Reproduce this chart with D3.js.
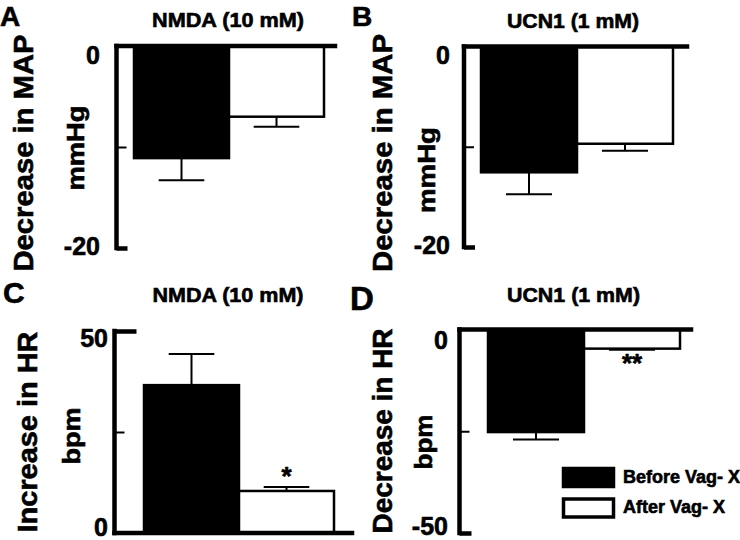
<!DOCTYPE html>
<html>
<head>
<meta charset="utf-8">
<script src="https://cdn.jsdelivr.net/npm/d3@7"></script>
<style>
  html, body { margin: 0; padding: 0; background: #fff; }
  svg { display: block; }
  text { font-family: "Liberation Sans", Arial, Helvetica, sans-serif; font-weight: bold; fill: #000; stroke: #000; stroke-width: 0.6px; }
</style>
</head>
<body>
<svg id="chart" width="740" height="540"></svg>
<script>
// ---------------- data ----------------
const categories = ["Before Vag- X", "After Vag- X"];
const panelLetters = ["A", "B", "C", "D"];
const panelTitles = ["NMDA (10 mM)", "UCN1 (1 mM)", "NMDA (10 mM)", "UCN1 (1 mM)"];
const yLabels = ["Decrease in MAP", "Decrease in MAP", "Increase in HR", "Decrease in HR"];
const unitLabels = ["mmHg", "mmHg", "bpm", "bpm"];

const meanA = [-11.1, -7.0];
const semA  = [2.2, 1.0];
const meanB = [-12.55, -9.7];
const semB  = [2.2, 0.7];
const meanC = [36.6, 10.4];
const semC  = [7.7, 1.0];
const meanD = [-25.2, -4.7];
const semD  = [1.8, 0.3];

const domainA = [-20, 0];
const domainB = [-20, 0];
const domainC = [0, 50];
const domainD = [-50, 0];

const ticksA = [0, -10, -20];
const ticksB = [0, -10, -20];
const ticksC = [50, 25, 0];
const ticksD = [0, -25, -50];
const tickLabelsA = ["0", "", "-20"];
const tickLabelsB = ["0", "", "-20"];
const tickLabelsC = ["50", "", "0"];
const tickLabelsD = ["0", "", "-50"];

const sigA = ["", ""];
const sigB = ["", ""];
const sigC = ["", "*"];
const sigD = ["", "**"];

// ---------------- layout (positions / styles) ----------------
const panels = [
  { means: meanA, sems: semA, domain: domainA, ticks: ticksA, tickLabels: tickLabelsA, sig: sigA,
    spineX: 116.5, yTop: 46, yBottom: 248, barL: 134, barR: 324, lineEnd: 335,
    labelRight: 100, labelDy: [17.5, 6.5], endTick: 11,
    letter: { x: 0, y: 26, size: 28 },
    title: { x: 228, y: 26.5, len: 152 },
    ylab: { x: 33, y: 153, len: 237 },
    unit: { x: 84, y: 148, len: 85 } },
  { means: meanB, sems: semB, domain: domainB, ticks: ticksB, tickLabels: tickLabelsB, sig: sigB,
    spineX: 464, yTop: 46.5, yBottom: 247, barL: 481, barR: 673, lineEnd: 687,
    labelRight: 450, labelDy: [17, 6.5], endTick: 11,
    letter: { x: 352, y: 26, size: 28 },
    title: { x: 573, y: 28, len: 132 },
    ylab: { x: 392, y: 153, len: 238 },
    unit: { x: 435, y: 170, len: 86 } },
  { means: meanC, sems: semC, domain: domainC, ticks: ticksC, tickLabels: tickLabelsC, sig: sigC,
    spineX: 114.5, yTop: 331, yBottom: 533, barL: 144, barR: 334, lineEnd: 352,
    labelRight: 108, labelDy: [15.5, 2.5], endTick: 22,
    letter: { x: 3, y: 303, size: 30 },
    title: { x: 228, y: 302, len: 151 },
    ylab: { x: 37, y: 432, len: 201 },
    unit: { x: 80, y: 436, len: 57 } },
  { means: meanD, sems: semD, domain: domainD, ticks: ticksD, tickLabels: tickLabelsD, sig: sigD,
    spineX: 459.5, yTop: 329.5, yBottom: 533, barL: 488, barR: 680, lineEnd: 691,
    labelRight: 448, labelDy: [18.5, 1.5], endTick: 12,
    letter: { x: 350, y: 310, size: 33 },
    title: { x: 573.5, y: 302, len: 133 },
    ylab: { x: 392, y: 431, len: 205 },
    unit: { x: 432, y: 442, len: 55 } }
];

const barFill = ["#000", "#fff"];
const thick = 4.5;
const thin = 2;

const svg = d3.select("#chart");

panels.forEach((p, pi) => {
  const g = svg.append("g");
  const y = d3.scaleLinear().domain(p.domain).range([p.yBottom, p.yTop]);
  const x = d3.scaleBand().domain(categories).range([p.barL, p.barR]).padding(0);
  const bw = x.bandwidth();
  const rows = categories.map((c, i) => ({ cat: c, mean: p.means[i], sem: p.sems[i], sig: p.sig[i], i }));

  // error bars (outward only)
  const errEnd = d => d.mean >= 0 ? d.mean + d.sem : d.mean - d.sem;
  g.selectAll("line.stem").data(rows).join("line")
    .attr("x1", d => x(d.cat) + bw / 2).attr("x2", d => x(d.cat) + bw / 2)
    .attr("y1", d => y(d.mean)).attr("y2", d => y(errEnd(d)))
    .attr("stroke", "#000").attr("stroke-width", thin);
  g.selectAll("line.cap").data(rows).join("line")
    .attr("x1", d => x(d.cat) + bw / 2 - bw * 0.24).attr("x2", d => x(d.cat) + bw / 2 + bw * 0.24)
    .attr("y1", d => y(errEnd(d))).attr("y2", d => y(errEnd(d)))
    .attr("stroke", "#000").attr("stroke-width", thin);

  // bars
  g.selectAll("rect.bar").data(rows).join("rect")
    .attr("x", d => x(d.cat))
    .attr("width", bw)
    .attr("y", d => Math.min(y(0), y(d.mean)))
    .attr("height", d => Math.abs(y(d.mean) - y(0)))
    .attr("fill", d => barFill[d.i])
    .attr("stroke", "#000").attr("stroke-width", 2.5);

  // significance marks
  g.selectAll("text.sig").data(rows.filter(d => d.sig)).join("text")
    .attr("x", d => x(d.cat) + bw / 2)
    .attr("y", d => d.mean >= 0 ? y(errEnd(d)) - 2 : y(errEnd(d)) + 22)
    .attr("text-anchor", "middle")
    .attr("font-size", 26)
    .text(d => d.sig);

  // axis ticks + labels
  const ax = g.append("g").attr("transform", `translate(${p.spineX},0)`)
    .call(d3.axisLeft(y).tickValues(p.ticks).tickSize(-10).tickPadding(0)
      .tickFormat((d, i) => p.tickLabels[i]));
  ax.select(".domain").remove();
  ax.attr("font-family", null).attr("font-size", null);
  const dmin = p.domain[0], dmax = p.domain[1];
  ax.selectAll(".tick line")
    .attr("stroke", "#000")
    .attr("x2", d => (d === 0 ? 0 : (d === dmin || d === dmax) ? p.endTick : 10))
    .attr("stroke-width", d => (d === dmin || d === dmax) ? thick : thin);
  ax.selectAll(".tick text")
    .attr("x", p.labelRight - p.spineX)
    .attr("dy", null)
    .attr("y", d => d === dmax ? p.labelDy[0] : p.labelDy[1])
    .attr("text-anchor", "end")
    .attr("font-size", 25)
    .attr("fill", "#000");

  // spine
  g.append("line")
    .attr("x1", p.spineX).attr("x2", p.spineX)
    .attr("y1", y(dmax)).attr("y2", y(dmin))
    .attr("stroke", "#000").attr("stroke-width", thick).attr("stroke-linecap", "square");
  // zero line
  g.append("line")
    .attr("x1", p.spineX).attr("x2", p.lineEnd)
    .attr("y1", y(0)).attr("y2", y(0))
    .attr("stroke", "#000").attr("stroke-width", thick).attr("stroke-linecap", "square");

  // panel letter
  g.append("text").attr("x", p.letter.x).attr("y", p.letter.y)
    .attr("font-size", p.letter.size).text(panelLetters[pi]);
  // title
  g.append("text").attr("x", p.title.x).attr("y", p.title.y)
    .attr("text-anchor", "middle").attr("font-size", 20)
    .attr("textLength", p.title.len).attr("lengthAdjust", "spacingAndGlyphs")
    .text(panelTitles[pi]);
  // y label
  g.append("text").attr("transform", `translate(${p.ylab.x},${p.ylab.y}) rotate(-90)`)
    .attr("text-anchor", "middle").attr("font-size", 28)
    .attr("textLength", p.ylab.len).attr("lengthAdjust", "spacingAndGlyphs")
    .text(yLabels[pi]);
  // unit label
  g.append("text").attr("transform", `translate(${p.unit.x},${p.unit.y}) rotate(-90)`)
    .attr("text-anchor", "middle").attr("font-size", 24)
    .attr("textLength", p.unit.len).attr("lengthAdjust", "spacingAndGlyphs")
    .text(unitLabels[pi]);
});

// legend (in panel D)
const legend = svg.append("g").attr("transform", "translate(562,467)");
const legRows = legend.selectAll("g").data(categories).join("g")
  .attr("transform", (d, i) => `translate(0,${i * 30.5})`);
legRows.append("rect")
  .attr("x", 1.5).attr("y", 1.5).attr("width", 50).attr("height", 18)
  .attr("fill", (d, i) => barFill[i]).attr("stroke", "#000").attr("stroke-width", 3.5);
legRows.append("text")
  .attr("x", 61).attr("y", 15.5).attr("font-size", 18)
  .text(d => d);
</script>
</body>
</html>
